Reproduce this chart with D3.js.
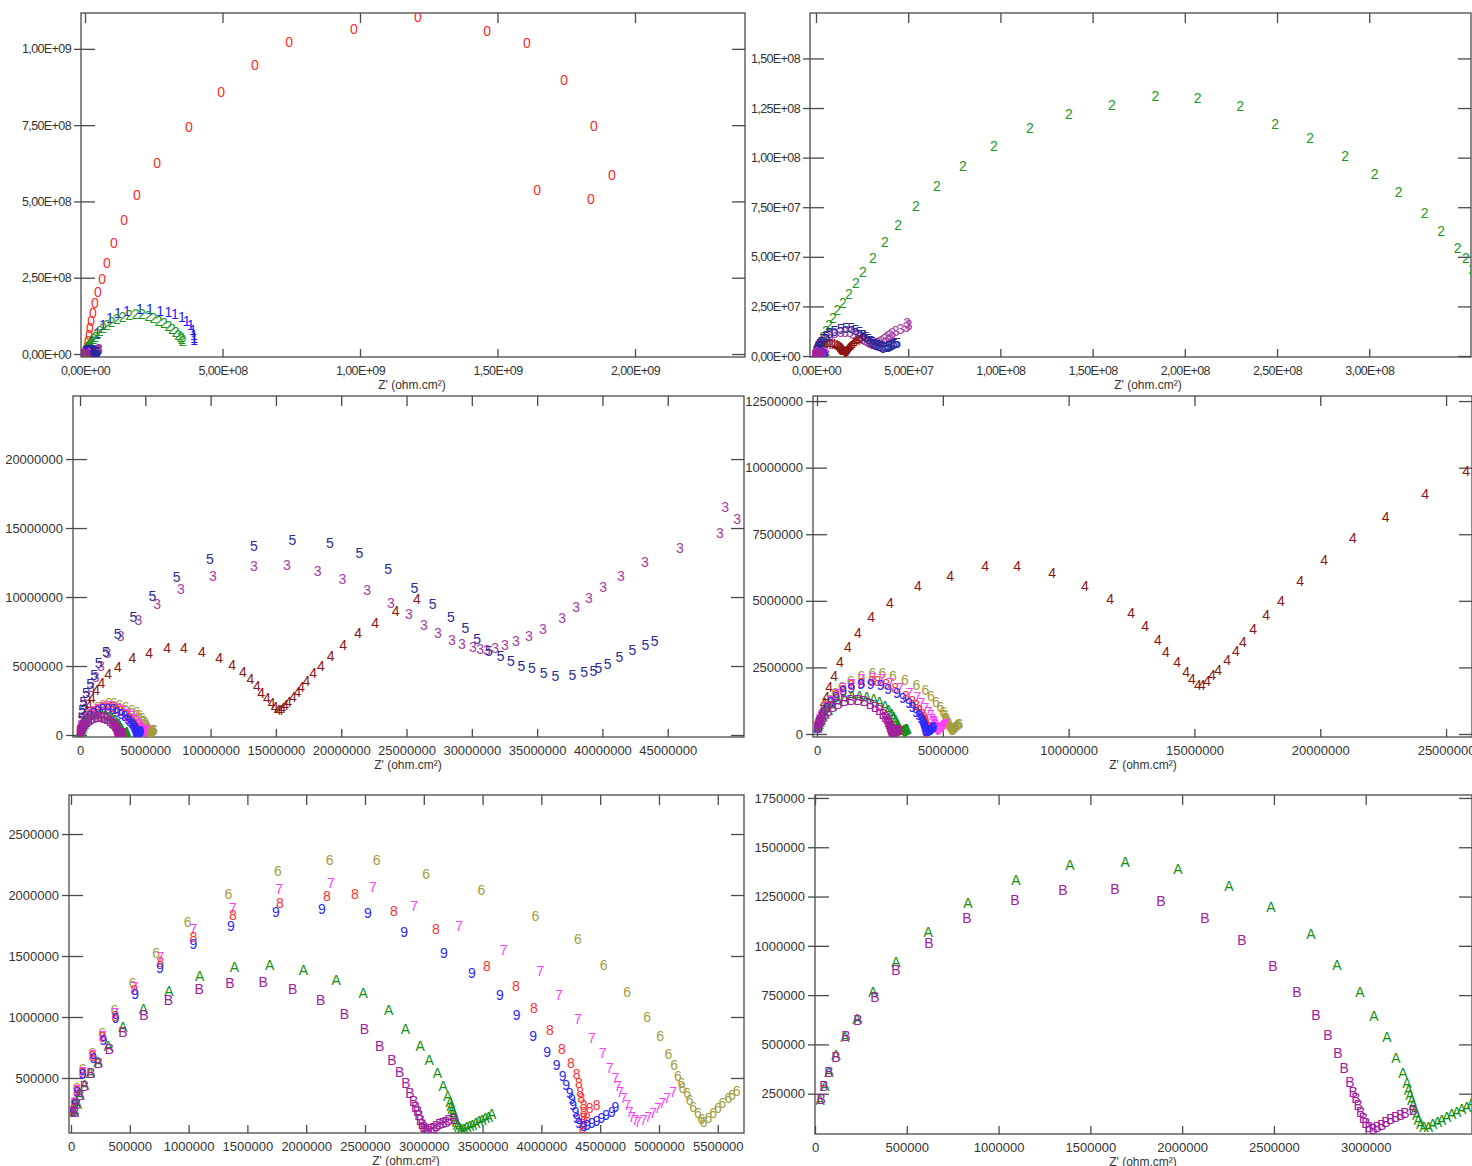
<!DOCTYPE html>
<html lang="en">
<head>
<meta charset="utf-8">
<title>Nyquist plots</title>
<script src="https://d3js.org/d3.v7.min.js"></script>
<style>
body { margin: 0; background: #fff; }
svg text { font-family: "Liberation Sans", Arial, sans-serif; }
</style>
</head>
<body>
<script>
// marker character and colour of every sample
var markers = ["0", "1", "2", "3", "4", "5", "6", "7", "8", "9", "A", "B"];
var colors = ["#ff2a2a", "#1a1aff", "#1e961e", "#a43ca4", "#8c1414", "#2a2a9a",
              "#a39c3c", "#ff3cff", "#ff3030", "#2a2aff", "#139013", "#a020a0"];

// Z' , -Z'' (ohm.cm2)
var s0 = [[4e6,1.0e7],[7e6,2.3e7],[1.1e7,4.3e7],[1.5e7,6.2e7],[1.8e7,8.5e7],[2.2e7,1.08e8],[2.9e7,1.34e8],
  [3.6e7,1.67e8],[4.7e7,2.03e8],[6.2e7,2.46e8],[8.0e7,2.98e8],[1.05e8,3.64e8],[1.42e8,4.39e8],[1.89e8,5.21e8],
  [2.62e8,6.26e8],[3.78e8,7.44e8],[4.95e8,8.59e8],[6.18e8,9.47e8],[7.42e8,1.022e9],[9.78e8,1.065e9],
  [1.211e9,1.104e9],[1.462e9,1.058e9],[1.607e9,1.019e9],[1.742e9,8.98e8],[1.851e9,7.47e8],[1.916e9,5.87e8],
  [1.84e9,5.08e8],[1.644e9,5.37e8]];
var s1 = [[1.1e7,2.0e7],[2.5e7,4.3e7],[4.4e7,6.9e7],[6.5e7,9.5e7],[9.1e7,1.18e8],[1.2e8,1.34e8],[1.52e8,1.42e8],
  [2.0e8,1.46e8],[2.36e8,1.46e8],[2.73e8,1.42e8],[3.03e8,1.37e8],[3.27e8,1.3e8],[3.52e8,1.2e8],[3.7e8,1.09e8],
  [3.84e8,9.5e7],[3.92e8,7.9e7],[3.96e8,6.2e7],[3.97e8,5.2e7],[3.97e8,4.6e7]];
var s2 = [[1.6e6,4.5e6],[2.7e6,7.1e6],[3.8e6,9.6e6],[5.4e6,1.26e7],[7.0e6,1.56e7],[9.2e6,1.92e7],[1.15e7,2.3e7],
  [1.46e7,2.67e7],[1.79e7,3.12e7],[2.17e7,3.68e7],[2.55e7,4.23e7],[3.09e7,4.94e7],[3.74e7,5.75e7],[4.45e7,6.6e7],
  [5.42e7,7.56e7],[6.56e7,8.57e7],[7.97e7,9.58e7],[9.65e7,1.058e8],[1.16e8,1.149e8],[1.372e8,1.22e8],
  [1.605e8,1.265e8],[1.84e8,1.31e8],[2.07e8,1.30e8],[2.3e8,1.26e8],[2.49e8,1.169e8],[2.68e8,1.099e8],
  [2.87e8,1.008e8],[3.03e8,9.17e7],[3.16e8,8.27e7],[3.3e8,7.2e7],[3.39e8,6.3e7],[3.48e8,5.44e7],
  [3.525e8,4.94e7],[3.56e8,4.4e7]];
var s3 = [[1.2e5,1.0e6],[2.0e5,1.6e6],[3.2e5,2.2e6],[5.5e5,2.8e6],[8.5e5,3.5e6],[1.2e6,4.2e6],[1.6e6,5.0e6],
  [2.09e6,5.92e6],[3.12e6,7.17e6],[4.47e6,8.33e6],[5.9e6,9.49e6],[7.73e6,1.058e7],[1.018e7,1.152e7],
  [1.332e7,1.225e7],[1.585e7,1.232e7],[1.82e7,1.188e7],[2.01e7,1.13e7],[2.198e7,1.051e7],[2.381e7,9.57e6],
  [2.519e7,8.77e6],[2.634e7,7.97e6],[2.741e7,7.39e6],[2.848e7,6.88e6],[2.925e7,6.59e6],[3.009e7,6.38e6],
  [3.063e7,6.23e6],[3.116e7,6.16e6],[3.178e7,6.3e6],[3.254e7,6.52e6],[3.338e7,6.81e6],[3.438e7,7.17e6],
  [3.545e7,7.68e6],[3.691e7,8.48e6],[3.798e7,9.28e6],[3.897e7,9.93e6],[4.005e7,1.072e7],[4.142e7,1.152e7],
  [4.326e7,1.254e7],[4.594e7,1.355e7],[4.9e7,1.464e7],[4.939e7,1.652e7],[5.031e7,1.565e7]];
var s4 = [[1.0e5,6e5],[1.8e5,9e5],[2.6e5,1.15e6],[3.6e5,1.39e6],[4.8e5,1.76e6],[6.8e5,2.18e6],[9.1e5,2.7e6],
  [1.23e6,3.27e6],[1.63e6,3.79e6],[2.15e6,4.39e6],[2.9e6,4.92e6],[4.01e6,5.56e6],[5.29e6,5.93e6],[6.68e6,6.31e6],
  [7.95e6,6.31e6],[9.34e6,6.04e6],[1.065e7,5.56e6],[1.165e7,5.07e6],[1.248e7,4.54e6],[1.304e7,4.05e6],
  [1.355e7,3.53e6],[1.387e7,3.08e6],[1.431e7,2.7e6],[1.467e7,2.33e6],[1.49e7,2.05e6],[1.514e7,1.84e6],
  [1.53e7,1.85e6],[1.55e7,1.98e6],[1.57e7,2.2e6],[1.594e7,2.4e6],[1.63e7,2.78e6],[1.665e7,3.12e6],
  [1.693e7,3.45e6],[1.733e7,3.94e6],[1.785e7,4.47e6],[1.844e7,4.99e6],[1.92e7,5.74e6],[2.015e7,6.53e6],
  [2.13e7,7.36e6],[2.26e7,8.15e6],[2.417e7,9.01e6],[2.58e7,9.87e6]];
var s5 = [[1.0e5,1.2e6],[1.6e5,1.8e6],[2.5e5,2.41e6],[4.6e5,3.02e6],[7.7e5,3.67e6],[1.09e6,4.35e6],[1.43e6,5.2e6],
  [1.99e6,5.99e6],[2.89e6,7.32e6],[4.08e6,8.57e6],[5.54e6,1.009e7],[7.4e6,1.147e7],[9.95e6,1.275e7],
  [1.332e7,1.372e7],[1.626e7,1.411e7],[1.914e7,1.391e7],[2.14e7,1.317e7],[2.36e7,1.2e7],[2.56e7,1.065e7],
  [2.7e7,9.49e6],[2.84e7,8.55e6],[2.95e7,7.75e6],[3.04e7,6.96e6],[3.13e7,6.09e6],[3.22e7,5.72e6],[3.3e7,5.36e6],
  [3.38e7,5.0e6],[3.46e7,4.86e6],[3.55e7,4.49e6],[3.64e7,4.28e6],[3.77e7,4.35e6],[3.86e7,4.57e6],
  [3.93e7,4.64e6],[3.97e7,4.86e6],[4.04e7,5.14e6],[4.13e7,5.65e6],[4.23e7,6.16e6],[4.33e7,6.52e6],[4.4e7,6.81e6]];
var s6 = [[1.4e4,2.38e5],[2.6e4,3.06e5],[4.8e4,4.16e5],[9.9e4,5.71e5],[1.81e5,7.05e5],[2.64e5,8.66e5],
  [3.68e5,1.057e6],[5.25e5,1.281e6],[7.25e5,1.527e6],[9.92e5,1.776e6],[1.338e6,2.008e6],[1.76e6,2.197e6],
  [2.2e6,2.287e6],[2.6e6,2.287e6],[3.02e6,2.172e6],[3.49e6,2.041e6],[3.95e6,1.828e6],[4.31e6,1.639e6],
  [4.53e6,1.426e6],[4.73e6,1.205e6],[4.9e6,1.0e6],[5.01e6,8.44e5],[5.08e6,6.97e5],[5.13e6,6.07e5],
  [5.16e6,5.16e5],[5.19e6,4.57e5],[5.2e6,4.18e5],[5.24e6,3.77e5],[5.26e6,3.2e5],[5.29e6,2.65e5],
  [5.33e6,2.13e5],[5.36e6,1.64e5],[5.38e6,1.42e5],[5.42e6,1.72e5],[5.46e6,2.13e5],[5.5e6,2.54e5],
  [5.54e6,2.95e5],[5.59e6,3.36e5],[5.62e6,3.6e5],[5.66e6,3.93e5]];
var s7 = [[1.5e4,2.3e5],[2.8e4,2.95e5],[5.0e4,4.0e5],[1.0e5,5.5e5],[1.85e5,6.9e5],[2.7e5,8.45e5],[3.75e5,1.03e6],
  [5.4e5,1.25e6],[7.6e5,1.49e6],[1.04e6,1.72e6],[1.377e6,1.893e6],[1.769e6,2.049e6],[2.211e6,2.098e6],
  [2.568e6,2.066e6],[2.917e6,1.91e6],[3.3e6,1.746e6],[3.68e6,1.549e6],[3.99e6,1.377e6],[4.15e6,1.18e6],
  [4.31e6,9.84e5],[4.43e6,8.28e5],[4.52e6,7.05e5],[4.58e6,5.82e5],[4.63e6,5.0e5],[4.65e6,4.34e5],
  [4.67e6,3.88e5],[4.7e6,3.34e5],[4.73e6,2.79e5],[4.75e6,2.24e5],[4.77e6,1.83e5],[4.8e6,1.56e5],
  [4.82e6,1.42e5],[4.87e6,1.56e5],[4.91e6,1.83e5],[4.95e6,2.11e5],[4.99e6,2.52e5],[5.03e6,2.93e5],
  [5.07e6,3.34e5],[5.12e6,3.88e5]];
var s8 = [[1.5e4,2.3e5],[2.8e4,2.9e5],[5.0e4,3.95e5],[1.0e5,5.4e5],[1.85e5,6.8e5],[2.7e5,8.35e5],[3.75e5,1.01e6],
  [5.4e5,1.22e6],[7.6e5,1.45e6],[1.04e6,1.66e6],[1.377e6,1.836e6],[1.777e6,1.934e6],[2.177e6,1.992e6],
  [2.415e6,2.008e6],[2.746e6,1.869e6],[3.104e6,1.721e6],[3.537e6,1.418e6],[3.784e6,1.254e6],[3.937e6,1.074e6],
  [4.073e6,8.93e5],[4.175e6,7.38e5],[4.25e6,6.23e5],[4.3e6,5.3e5],[4.32e6,4.57e5],[4.33e6,3.88e5],
  [4.34e6,3.34e5],[4.36e6,2.79e5],[4.36e6,2.24e5],[4.36e6,1.7e5],[4.35e6,1.23e5],[4.35e6,8.8e4],
  [4.39e6,1.72e5],[4.41e6,2.52e5],[4.47e6,2.79e5]];
var s9 = [[1.6e4,2.25e5],[3.0e4,2.85e5],[5.2e4,3.85e5],[1.0e5,5.3e5],[1.9e5,6.65e5],[2.75e5,8.15e5],[3.8e5,9.9e5],
  [5.45e5,1.19e6],[7.57e5,1.402e6],[1.04e6,1.6e6],[1.36e6,1.746e6],[1.743e6,1.861e6],[2.134e6,1.885e6],
  [2.525e6,1.852e6],[2.832e6,1.697e6],[3.172e6,1.525e6],[3.41e6,1.361e6],[3.648e6,1.18e6],[3.79e6,1.016e6],
  [3.93e6,8.44e5],[4.05e6,7.13e5],[4.13e6,6.07e5],[4.18e6,5.16e5],[4.21e6,4.43e5],[4.24e6,3.8e5],
  [4.26e6,3.25e5],[4.27e6,2.79e5],[4.29e6,2.24e5],[4.3e6,1.7e5],[4.32e6,1.29e5],[4.36e6,1.07e5],
  [4.39e6,1.15e5],[4.43e6,1.29e5],[4.47e6,1.5e5],[4.51e6,1.7e5],[4.55e6,1.97e5],[4.6e6,2.24e5],[4.63e6,2.6e5]];
var sA = [[2.7e4,2.18e5],[5.4e4,2.89e5],[7.6e4,3.6e5],[1.14e5,4.46e5],[1.63e5,5.38e5],[2.29e5,6.29e5],
  [3.16e5,7.66e5],[4.41e5,9.18e5],[6.16e5,1.07e6],[8.33e5,1.217e6],[1.095e6,1.334e6],[1.389e6,1.41e6],
  [1.689e6,1.425e6],[1.977e6,1.389e6],[2.255e6,1.303e6],[2.484e6,1.197e6],[2.702e6,1.06e6],[2.843e6,9.03e5],
  [2.969e6,7.66e5],[3.045e6,6.44e5],[3.116e6,5.38e5],[3.165e6,4.31e5],[3.203e6,3.55e5],[3.225e6,3.04e5],
  [3.232e6,2.69e5],[3.241e6,2.43e5],[3.25e6,2.18e5],[3.259e6,1.93e5],[3.268e6,1.67e5],[3.277e6,1.42e5],
  [3.286e6,1.17e5],[3.299e6,9.6e4],[3.317e6,8.0e4],[3.341e6,8.3e4],[3.365e6,9.6e4],[3.39e6,1.08e5],
  [3.414e6,1.17e5],[3.441e6,1.33e5],[3.468e6,1.47e5],[3.495e6,1.59e5],[3.523e6,1.71e5],[3.55e6,1.84e5],
  [3.577e6,2.01e5]];
var sB = [[3.3e4,2.23e5],[4.9e4,2.89e5],[7.6e4,3.6e5],[1.14e5,4.36e5],[1.69e5,5.43e5],[2.34e5,6.24e5],
  [3.27e5,7.4e5],[4.41e5,8.77e5],[6.21e5,1.014e6],[8.28e5,1.141e6],[1.089e6,1.232e6],[1.351e6,1.283e6],
  [1.634e6,1.288e6],[1.885e6,1.227e6],[2.124e6,1.141e6],[2.326e6,1.029e6],[2.495e6,8.98e5],[2.625e6,7.66e5],
  [2.729e6,6.49e5],[2.794e6,5.48e5],[2.849e6,4.56e5],[2.882e6,3.8e5],[2.914e6,3.08e5],[2.932e6,2.6e5],
  [2.947e6,2.27e5],[2.959e6,1.93e5],[2.972e6,1.59e5],[2.987e6,1.25e5],[3.001e6,1.0e5],[3.019e6,8.0e4],
  [3.041e6,6.9e4],[3.063e6,8.0e4],[3.087e6,9.1e4],[3.11e6,1.08e5],[3.136e6,1.2e5],[3.163e6,1.33e5],
  [3.19e6,1.42e5],[3.214e6,1.54e5],[3.259e6,1.67e5]];
var series = [s0, s1, s2, s3, s4, s5, s6, s7, s8, s9, sA, sB];

// tick values of each panel
var p1XTicks = [0, 5e8, 1e9, 1.5e9, 2e9];
var p1YTicks = [0, 2.5e8, 5e8, 7.5e8, 1e9];
var p2XTicks = [0, 5e7, 1e8, 1.5e8, 2e8, 2.5e8, 3e8];
var p2YTicks = [0, 2.5e7, 5e7, 7.5e7, 1e8, 1.25e8, 1.5e8];
var p3XTicks = [0, 5e6, 1e7, 1.5e7, 2e7, 2.5e7, 3e7, 3.5e7, 4e7, 4.5e7];
var p3YTicks = [0, 5e6, 1e7, 1.5e7, 2e7];
var p4XTicks = [0, 5e6, 1e7, 1.5e7, 2e7, 2.5e7];
var p4YTicks = [0, 2.5e6, 5e6, 7.5e6, 1e7, 1.25e7];
var p5XTicks = [0, 5e5, 1e6, 1.5e6, 2e6, 2.5e6, 3e6, 3.5e6, 4e6, 4.5e6, 5e6, 5.5e6];
var p5YTicks = [5e5, 1e6, 1.5e6, 2e6, 2.5e6];
var p6XTicks = [0, 5e5, 1e6, 1.5e6, 2e6, 2.5e6, 3e6];
var p6YTicks = [2.5e5, 5e5, 7.5e5, 1e6, 1.25e6, 1.5e6, 1.75e6];

function fmtE(v) {
	if (v === 0) return "0,00E+00";
	var e = Math.floor(Math.log10(Math.abs(v)) + 1e-9);
	var m = v / Math.pow(10, e);
	return m.toFixed(2).replace(".", ",") + "E" + (e < 0 ? "-" : "+") + String(Math.abs(e)).padStart(2, "0");
}
var fmtN = d3.format("d");

// box = [left, top, right, bottom] in page pixels
var panels = [
	{box: [81, 13, 745, 357], x: [-1.45e7, 2.4e9], y: [-9.8e6, 1.1175e9], xt: p1XTicks, yt: p1YTicks,
	 fmt: fmtE, show: [0,1,2,3,4,5,6,7,8,9,10,11], labelX: 412, sci: true},
	{box: [810, 13, 1471, 357], x: [-3.25e6, 3.552e8], y: [-5e5, 1.729e8], xt: p2XTicks, yt: p2YTicks,
	 fmt: fmtE, show: [2,3,4,5,6,7,8,9,10,11], labelX: 1148, sci: true},
	{box: [73, 396, 744, 737], x: [-5.36e5, 5.084e7], y: [-1.45e5, 2.457e7], xt: p3XTicks, yt: p3YTicks,
	 fmt: fmtN, show: [3,4,5,6,7,8,9,10,11], labelX: 408},
	{box: [813, 396, 1472, 737], x: [-1.59e5, 2.603e7], y: [-1.13e5, 1.269e7], xt: p4XTicks, yt: p4YTicks,
	 fmt: fmtN, show: [4,6,7,8,9,10,11], labelX: 1143},
	{box: [69, 795, 744, 1133], x: [-1.7e4, 5.723e6], y: [4.9e4, 2.82e6], xt: p5XTicks, yt: p5YTicks,
	 fmt: fmtN, show: [6,7,8,9,10,11], labelX: 406},
	{box: [815, 795, 1472, 1134], x: [0, 3.579e6], y: [4.56e4, 1.765e6], xt: p6XTicks, yt: p6YTicks,
	 fmt: fmtN, show: [10,11], labelX: 1143}
];

var svg = d3.select("body").append("svg")
	.attr("width", 1472)
	.attr("height", 1166);

panels.forEach(function(p, pi) {
	var w = p.box[2] - p.box[0],
		h = p.box[3] - p.box[1];
	var xscale = d3.scaleLinear().domain(p.x).range([0, w]);
	var yscale = d3.scaleLinear().domain(p.y).range([h, 0]);

	var g = svg.append("g")
		.attr("transform", "translate(" + p.box[0] + "," + p.box[1] + ")");

	g.append("clipPath").attr("id", "clip" + pi)
		.append("rect").attr("width", w).attr("height", h);

	// left axis: labels + outer part of tick, then inner part
	g.append("g")
		.call(d3.axisLeft(yscale).tickValues(p.yt).tickSize(7).tickPadding(3).tickSizeOuter(0).tickFormat(p.fmt));
	g.append("g")
		.call(d3.axisLeft(yscale).tickValues(p.yt).tickSize(-14).tickSizeOuter(0).tickFormat(""));
	g.append("g")
		.attr("transform", "translate(" + w + ",0)")
		.call(d3.axisRight(yscale).tickValues(p.yt).tickSize(-13).tickSizeOuter(0).tickFormat(""));
	g.append("g")
		.attr("transform", "translate(0," + h + ")")
		.call(d3.axisBottom(xscale).tickValues(p.xt).tickSize(-8).tickPadding(9).tickSizeOuter(0).tickFormat(p.fmt));
	g.append("g")
		.call(d3.axisTop(xscale).tickValues(p.xt).tickSize(-10).tickSizeOuter(0).tickFormat(""));

	g.selectAll(".domain").remove();
	g.selectAll(".tick line").attr("stroke", "#4a4a4a").attr("stroke-width", 1.3);
	g.selectAll(".tick text")
		.attr("fill", "#333")
		.style("font-size", p.sci ? "12.5px" : "13px")
		.style("letter-spacing", p.sci ? "-0.6px" : "0px");

	g.append("rect")
		.attr("width", w)
		.attr("height", h)
		.attr("fill", "none")
		.attr("stroke", "#4a4a4a")
		.attr("stroke-width", 1.3);

	// samples drawn as their characters
	var marks = g.append("g").attr("clip-path", "url(#clip" + pi + ")");
	p.show.forEach(function(k) {
		marks.append("g")
			.selectAll("text")
			.data(series[k])
			.enter()
			.append("text")
			.attr("x", function(d) { return xscale(d[0]); })
			.attr("y", function(d) { return yscale(d[1]); })
			.attr("dy", "0.36em")
			.attr("text-anchor", "middle")
			.attr("font-size", "14px")
			.attr("fill", colors[k])
			.text(markers[k]);
	});

	// axis title
	svg.append("text")
		.attr("x", p.labelX)
		.attr("y", p.box[3] + 28)
		.attr("dy", "0.35em")
		.attr("text-anchor", "middle")
		.attr("font-size", "12px")
		.attr("fill", "#333")
		.text("Z' (ohm.cm²)");
});
</script>
</body>
</html>
